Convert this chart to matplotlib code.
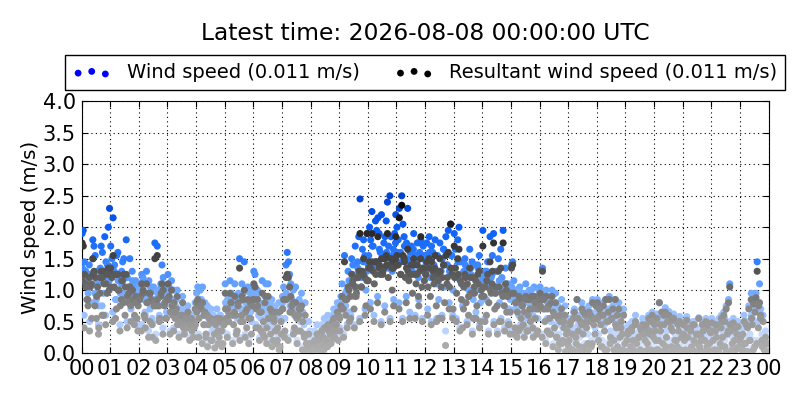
import matplotlib
matplotlib.use("Agg")
import matplotlib.pyplot as plt
from matplotlib.colors import LinearSegmentedColormap, Normalize
import numpy as np

# one row per hour (m/s)
wind_speed = [
    [1.9,1.95,1.45,1.3,1.1,0.95,1.4,1.25,0.8,1.8,1.7,1.55,0.85,1.3,0.75,1.15,1.7,1.6,0.95,1.85,1.45,1.2,2.0,2.3],
    [1.7,1.5,2.15,1.3,0.85,1.55,1.6,1.25,0.95,1.1,1.45,1.5,0.9,1.8,1.2,1.05,1.5,0.7,1.3,1.1,0.95,1.15,0.8,1.05],
    [1.0,1.1,1.25,1.2,0.85,0.6,1.3,0.95,1.15,0.7,1.05,0.5,1.05,1.75,1.0,1.7,0.9,0.75,1.1,1.4,1.2,0.95,0.8,1.05],
    [1.25,1.05,0.85,1.15,0.75,1.0,0.7,0.85,0.6,0.65,0.55,0.6,0.7,0.5,0.65,0.55,0.5,0.65,0.6,0.55,0.45,0.6,0.5,0.55],
    [0.95,1.05,0.7,1.0,0.85,1.05,0.6,0.8,0.45,0.75,0.55,0.65,0.7,0.35,0.6,0.4,0.55,0.7,0.5,0.4,0.6,0.45,0.35,0.55],
    [1.1,0.75,0.85,0.65,1.15,0.95,0.8,0.6,1.1,0.75,0.55,0.95,1.5,0.7,1.1,0.65,1.45,0.8,0.6,1.05,0.75,0.95,0.5,1.0],
    [1.3,1.25,0.9,1.0,0.6,0.8,0.55,1.15,0.7,0.45,1.1,0.6,1.1,0.75,0.5,0.85,0.4,0.7,0.55,0.35,0.6,0.8,0.3,0.5],
    [0.9,1.05,0.55,1.4,1.6,1.45,1.25,1.1,0.85,1.0,0.6,1.05,0.75,0.55,0.85,0.5,0.95,0.65,0.45,0.8,0.3,0.2,0.5,0.35],
    [0.3,0.15,0.25,0.35,0.2,0.45,0.1,0.3,0.2,0.45,0.35,0.55,0.3,0.25,0.6,0.5,0.4,0.3,0.6,0.7,0.65,0.5,0.8,0.75],
    [0.7,0.9,1.1,0.85,1.55,0.75,1.0,1.3,0.65,1.1,1.5,1.4,0.9,1.7,1.2,1.45,1.85,2.45,1.3,1.65,1.8,1.55,1.0,1.9],
    [1.4,2.0,1.8,2.25,1.7,1.4,2.1,1.95,2.15,1.9,1.6,2.2,1.55,1.75,1.85,2.1,2.4,1.7,2.5,1.85,1.3,1.65,1.9,2.2],
    [2.0,1.8,2.3,1.6,2.5,2.05,1.85,1.5,1.75,2.3,1.45,1.6,1.7,1.3,1.9,1.55,1.4,1.75,1.2,1.6,1.8,1.35,1.7,1.5],
    [1.55,1.75,1.35,1.85,1.2,1.7,1.6,1.4,1.8,1.1,1.55,0.85,1.75,1.3,1.5,1.65,1.05,1.85,1.4,1.95,1.3,2.05,1.55,1.0],
    [1.9,1.65,1.2,1.8,2.0,1.45,1.1,0.75,1.3,1.5,1.05,1.35,0.9,1.65,1.25,1.45,0.85,1.2,1.4,1.0,1.35,1.55,0.8,1.15],
    [1.95,1.1,1.3,0.85,1.45,1.05,1.85,1.2,1.55,1.9,0.95,1.3,1.0,1.5,0.8,1.65,1.2,1.95,1.0,1.35,0.9,1.1,0.7,0.85],
    [1.4,1.45,1.15,0.7,1.0,0.85,0.6,1.05,0.75,0.95,0.65,0.85,1.1,0.55,0.8,1.0,0.7,0.9,0.6,1.05,0.75,0.85,0.55,1.0],
    [1.05,0.95,1.35,0.85,0.7,1.0,0.55,0.9,0.75,0.5,1.0,0.8,0.6,0.95,0.45,0.75,0.3,0.65,0.85,0.4,0.6,0.75,0.5,0.35],
    [0.3,0.5,0.22,0.4,0.65,0.12,0.35,0.85,0.45,0.25,0.6,0.8,0.4,0.15,0.7,0.5,0.3,0.75,0.6,0.2,0.85,0.55,0.4,0.65],
    [0.85,0.3,0.7,0.55,0.2,0.8,0.45,0.85,0.15,0.6,0.9,0.35,0.65,0.75,0.3,0.85,0.5,0.2,0.8,0.35,0.6,0.4,0.7,0.25],
    [0.1,0.3,0.45,0.05,0.2,0.5,0.3,0.1,0.6,0.25,0.05,0.35,0.15,0.45,0.55,0.1,0.3,0.5,0.25,0.6,0.4,0.15,0.65,0.35],
    [0.5,0.3,0.62,0.15,0.8,0.45,0.6,0.25,0.5,0.72,0.35,0.1,0.66,0.55,0.2,0.45,0.62,0.3,0.55,0.2,0.45,0.58,0.15,0.35],
    [0.5,0.3,0.15,0.58,0.35,0.05,0.45,0.2,0.5,0.3,0.1,0.4,0.25,0.56,0.15,0.35,0.5,0.1,0.3,0.55,0.2,0.45,0.25,0.4],
    [0.55,0.3,0.15,0.45,0.35,0.1,0.55,0.25,0.6,0.35,0.65,0.2,0.75,0.4,0.85,1.1,0.45,0.25,0.55,0.3,0.15,0.4,0.5,0.2],
    [0.35,0.15,0.4,0.6,0.25,0.1,0.5,0.75,0.3,0.95,0.55,0.85,0.2,0.95,1.45,0.5,1.1,0.7,0.3,0.6,0.15,0.35,0.25,0.1],
]

resultant_speed = [
    [1.75,1.7,1.25,1.1,0.85,0.75,1.2,1.05,0.55,1.5,1.3,1.2,0.55,1.05,0.4,0.95,1.3,1.2,0.6,1.3,1.1,0.95,1.35,1.3],
    [1.35,1.2,1.55,1.05,0.55,1.25,1.25,1.0,0.75,0.85,1.15,1.25,0.6,1.25,0.9,0.8,1.05,0.5,1.0,0.85,0.6,0.9,0.55,0.75],
    [0.85,0.9,1.1,0.95,0.6,0.4,1.1,0.8,0.95,0.5,0.85,0.25,0.8,1.5,0.75,1.55,0.75,0.55,0.9,1.1,1.0,0.75,0.55,0.85],
    [1.1,0.9,0.65,1.0,0.6,0.8,0.55,0.7,0.45,0.55,0.45,0.5,0.6,0.4,0.55,0.45,0.4,0.55,0.5,0.45,0.35,0.5,0.4,0.45],
    [0.8,0.85,0.55,0.75,0.7,0.8,0.45,0.65,0.3,0.6,0.45,0.55,0.55,0.2,0.5,0.3,0.45,0.55,0.35,0.25,0.5,0.35,0.15,0.45],
    [0.95,0.55,0.7,0.5,0.95,0.8,0.6,0.45,0.9,0.6,0.35,0.8,1.35,0.5,0.9,0.5,1.0,0.65,0.4,0.85,0.55,0.8,0.3,0.85],
    [1.1,1.05,0.7,0.85,0.4,0.65,0.35,0.95,0.5,0.25,0.9,0.4,0.9,0.55,0.3,0.65,0.2,0.5,0.35,0.15,0.4,0.65,0.1,0.3],
    [0.7,0.85,0.35,1.2,1.25,1.2,1.05,0.9,0.65,0.8,0.4,0.8,0.55,0.35,0.7,0.35,0.75,0.5,0.3,0.6,0.15,0.05,0.3,0.15],
    [0.15,0.05,0.15,0.2,0.1,0.3,0.02,0.2,0.1,0.35,0.25,0.4,0.15,0.15,0.45,0.35,0.3,0.2,0.5,0.55,0.45,0.35,0.65,0.6],
    [0.55,0.75,0.9,0.7,1.45,0.6,0.85,1.05,0.5,0.9,1.25,1.15,0.7,1.05,0.95,1.2,1.3,1.9,1.05,1.3,1.5,1.2,0.75,1.9],
    [1.15,1.45,1.35,1.9,1.3,1.1,1.45,1.45,1.85,1.35,1.25,1.5,1.25,1.35,1.5,1.55,1.9,1.4,1.4,1.5,1.0,1.35,1.45,1.85],
    [1.55,1.4,2.15,1.25,2.35,1.55,1.5,1.2,1.35,1.65,1.15,1.25,1.4,0.95,1.5,1.25,1.1,1.4,0.9,1.3,1.85,1.05,1.35,1.15],
    [1.25,1.45,1.05,1.5,0.9,1.45,1.3,1.1,1.55,0.75,1.25,0.55,1.5,1.05,1.2,1.4,0.8,1.55,1.1,1.6,1.05,2.05,1.25,0.7],
    [1.7,1.35,0.95,1.5,1.65,1.15,0.85,0.4,1.05,1.25,0.8,1.1,0.6,1.35,0.95,1.2,0.55,0.95,1.15,0.75,1.1,1.3,0.5,0.9],
    [1.7,0.9,1.05,0.6,1.25,0.8,1.45,0.95,1.3,1.75,0.7,1.05,0.75,1.3,0.5,1.35,0.95,1.75,0.75,1.1,0.65,0.9,0.45,0.65],
    [1.35,1.4,0.95,0.4,0.8,0.65,0.35,0.85,0.55,0.75,0.45,0.65,0.9,0.35,0.6,0.85,0.5,0.7,0.4,0.9,0.55,0.7,0.35,0.85],
    [0.95,0.85,1.3,0.7,0.5,0.9,0.35,0.75,0.55,0.3,0.9,0.65,0.4,0.8,0.25,0.55,0.15,0.5,0.7,0.2,0.4,0.6,0.3,0.15],
    [0.1,0.45,0.05,0.3,0.55,0.02,0.25,0.85,0.35,0.1,0.5,0.7,0.3,0.05,0.6,0.4,0.15,0.65,0.5,0.1,0.8,0.45,0.3,0.55],
    [0.8,0.2,0.6,0.45,0.1,0.75,0.35,0.85,0.05,0.5,0.85,0.25,0.55,0.7,0.2,0.85,0.4,0.1,0.7,0.25,0.5,0.3,0.6,0.15],
    [0.02,0.2,0.35,0.0,0.1,0.4,0.2,0.02,0.5,0.15,0.0,0.25,0.05,0.35,0.45,0.02,0.2,0.4,0.15,0.55,0.3,0.05,0.6,0.25],
    [0.45,0.2,0.55,0.05,0.8,0.35,0.65,0.15,0.45,0.65,0.25,0.02,0.6,0.5,0.1,0.35,0.55,0.2,0.5,0.1,0.35,0.5,0.05,0.25],
    [0.45,0.2,0.05,0.52,0.25,0.0,0.38,0.1,0.45,0.2,0.02,0.3,0.15,0.55,0.05,0.25,0.45,0.02,0.2,0.5,0.1,0.38,0.15,0.32],
    [0.48,0.2,0.05,0.35,0.25,0.02,0.45,0.15,0.55,0.25,0.6,0.1,0.7,0.3,0.8,1.05,0.35,0.15,0.48,0.2,0.05,0.3,0.42,0.1],
    [0.25,0.05,0.3,0.5,0.15,0.02,0.4,0.7,0.2,0.85,0.45,0.78,0.1,0.88,1.3,0.4,0.8,0.6,0.2,0.5,0.05,0.25,0.15,0.03],
]

# second pass through each hour, the thick band of points
core_speed = [
    [1.35,0.6,1.2,1.05,0.5,1.25,1.5,0.95,1.1,0.45,1.35,0.75,1.25,0.6,1.4,1.15],
    [1.25,0.65,1.4,0.85,1.15,0.45,1.3,0.95,1.2,0.5,1.05,0.9,1.15,0.55,0.95,0.45],
    [0.95,0.45,1.15,0.65,0.9,0.35,1.05,0.55,0.85,0.3,0.95,0.6,1.05,0.4,0.9,0.65],
    [0.95,0.35,0.85,0.4,0.75,1.0,0.3,0.7,0.9,0.35,0.65,0.75,0.25,0.6,0.3,0.8],
    [0.75,0.3,0.85,0.2,0.7,0.3,0.15,0.65,0.25,0.6,0.1,0.55,0.2,0.6,0.15,0.5],
    [0.8,0.3,0.7,0.9,0.2,0.75,0.35,0.85,0.25,0.7,0.95,0.3,0.8,0.2,0.65,0.85],
    [0.95,0.45,0.85,0.25,0.75,0.35,0.9,0.2,0.65,0.8,0.15,0.6,0.75,0.25,0.1,0.55],
    [0.8,0.3,0.95,0.25,0.75,0.85,0.35,0.7,0.2,0.65,0.8,0.1,0.3,0.1,0.15,0.05],
    [0.05,0.1,0.02,0.25,0.12,0.05,0.4,0.1,0.28,0.15,0.45,0.2,0.4,0.3,0.5,0.25],
    [0.4,0.8,0.3,0.95,0.45,1.15,0.6,1.25,0.45,1.05,1.35,0.55,1.2,1.45,0.7,1.3],
    [1.55,0.8,1.7,0.6,1.45,0.9,1.65,0.5,1.5,0.75,1.6,1.35,0.55,1.55,0.85,1.75],
    [1.6,0.8,1.45,0.55,1.7,0.9,1.5,0.65,1.4,1.65,0.6,1.45,0.85,1.75,0.55,1.55],
    [1.45,0.7,1.6,0.5,1.35,1.55,0.55,1.3,1.5,0.6,1.65,0.35,1.4,0.8,1.55,0.6],
    [1.35,0.55,1.45,0.4,1.25,0.8,1.4,0.5,1.0,1.35,0.35,1.2,0.65,1.4,0.45,1.15],
    [1.2,0.55,1.3,0.35,1.1,1.25,0.5,1.05,0.35,1.15,0.55,1.0,0.4,1.1,0.5,0.35],
    [1.05,0.35,0.9,0.3,1.0,0.45,0.85,0.3,0.95,0.4,0.8,1.0,0.3,0.9,0.35,0.8],
    [0.85,0.3,0.95,0.2,0.8,0.35,0.9,0.15,0.7,0.3,0.1,0.65,0.2,0.55,0.05,0.4],
    [0.25,0.55,0.1,0.7,0.2,0.6,0.05,0.5,0.7,0.15,0.55,0.1,0.65,0.2,0.6,0.8],
    [0.6,0.75,0.15,0.65,0.1,0.55,0.7,0.2,0.6,0.1,0.5,0.65,0.05,0.45,0.1,0.05],
    [0.05,0.35,0.02,0.4,0.1,0.5,0.02,0.3,0.45,0.05,0.35,0.5,0.1,0.4,0.55,0.05],
    [0.4,0.1,0.25,0.5,0.05,0.65,0.15,0.55,0.05,0.45,0.6,0.1,0.25,0.5,0.02,0.3],
    [0.35,0.05,0.45,0.02,0.4,0.1,0.5,0.02,0.35,0.15,0.25,0.4,0.02,0.5,0.1,0.4],
    [0.4,0.05,0.5,0.1,0.02,0.45,0.15,0.55,0.05,0.4,0.5,0.1,0.02,0.45,0.12,0.25],
    [0.3,0.1,0.2,0.5,0.05,0.25,0.6,0.1,0.7,0.2,0.8,0.6,0.15,0.25,0.05,0.2],
]

core_resultant = [
    [1.15,0.4,1.05,0.85,0.35,1.1,1.25,0.75,0.9,0.3,1.2,0.6,1.1,0.45,1.25,1.0],
    [1.05,0.5,1.25,0.7,1.0,0.35,1.15,0.8,1.05,0.4,0.95,0.75,1.0,0.45,0.8,0.35],
    [0.85,0.35,1.0,0.55,0.8,0.25,0.95,0.45,0.75,0.2,0.85,0.5,0.95,0.3,0.8,0.55],
    [0.85,0.3,0.75,0.35,0.65,0.9,0.25,0.6,0.8,0.3,0.55,0.65,0.2,0.55,0.25,0.7],
    [0.65,0.25,0.75,0.15,0.6,0.25,0.1,0.55,0.2,0.5,0.08,0.5,0.15,0.55,0.1,0.45],
    [0.7,0.25,0.6,0.8,0.15,0.65,0.3,0.75,0.2,0.6,0.85,0.25,0.7,0.15,0.55,0.75],
    [0.85,0.4,0.75,0.2,0.65,0.3,0.8,0.15,0.55,0.7,0.1,0.55,0.65,0.2,0.05,0.5],
    [0.7,0.25,0.85,0.2,0.65,0.75,0.3,0.6,0.15,0.6,0.7,0.05,0.25,0.05,0.1,0.02],
    [0.02,0.05,0.0,0.2,0.08,0.02,0.35,0.05,0.22,0.1,0.4,0.15,0.35,0.25,0.45,0.2],
    [0.35,0.7,0.25,0.85,0.4,1.0,0.55,1.1,0.4,0.9,1.2,0.5,1.05,1.25,0.6,1.15],
    [1.35,0.7,1.45,0.5,1.25,0.8,1.4,0.45,1.3,0.65,1.4,1.2,0.5,1.35,0.75,1.5],
    [1.4,0.7,1.25,0.5,1.45,0.8,1.3,0.55,1.25,1.4,0.55,1.25,0.75,1.5,0.5,1.35],
    [1.25,0.6,1.35,0.45,1.2,1.35,0.5,1.15,1.3,0.55,1.4,0.12,1.2,0.7,1.35,0.55],
    [1.2,0.5,1.25,0.35,1.1,0.7,1.2,0.45,0.9,1.2,0.3,1.05,0.55,1.25,0.4,1.0],
    [1.05,0.5,1.15,0.3,1.0,1.1,0.45,0.95,0.3,1.05,0.5,0.9,0.35,1.0,0.45,0.3],
    [0.95,0.3,0.8,0.25,0.9,0.4,0.75,0.25,0.85,0.35,0.7,0.9,0.25,0.8,0.3,0.7],
    [0.75,0.25,0.85,0.15,0.7,0.3,0.8,0.1,0.6,0.25,0.05,0.6,0.15,0.5,0.02,0.35],
    [0.2,0.5,0.05,0.65,0.15,0.55,0.02,0.45,0.65,0.1,0.5,0.05,0.6,0.15,0.55,0.75],
    [0.55,0.7,0.1,0.6,0.05,0.5,0.65,0.15,0.55,0.05,0.45,0.6,0.02,0.4,0.05,0.02],
    [0.02,0.3,0.0,0.35,0.05,0.45,0.0,0.25,0.4,0.02,0.3,0.45,0.05,0.35,0.5,0.02],
    [0.35,0.05,0.2,0.45,0.02,0.6,0.1,0.5,0.02,0.4,0.55,0.05,0.2,0.45,0.0,0.25],
    [0.3,0.02,0.4,0.0,0.35,0.05,0.45,0.0,0.3,0.1,0.2,0.35,0.0,0.45,0.05,0.35],
    [0.35,0.02,0.45,0.05,0.0,0.4,0.1,0.5,0.02,0.35,0.45,0.05,0.0,0.4,0.08,0.2],
    [0.25,0.05,0.15,0.45,0.02,0.2,0.55,0.05,0.65,0.15,0.75,0.55,0.1,0.2,0.02,0.15],
]

hour_labels = ["00","01","02","03","04","05","06","07","08","09","10","11",
               "12","13","14","15","16","17","18","19","20","21","22","23","00"]
y_ticks = [0.0,0.5,1.0,1.5,2.0,2.5,3.0,3.5,4.0]


def hourly_xy(rows):
    xs, ys = [], []
    for hour, row in enumerate(rows):
        for i, v in enumerate(row):
            xs.append(hour + (i + 0.5) / len(row))
            ys.append(v)
    return np.array(xs), np.array(ys)


plt.rcParams['font.family'] = 'DejaVu Sans'

blues = LinearSegmentedColormap.from_list("blues_wind", [(0, "#e6eeff"), (0.2, "#a8c8ff"), (0.4, "#6ea8ff"),
                                                         (0.6, "#2f7cff"), (0.8, "#0a5cf5"), (1, "#0044d0")])
greys = LinearSegmentedColormap.from_list("greys_wind", [(0, "#b0b0b0"), (0.2, "#989898"), (0.4, "#6e6e6e"),
                                                         (0.6, "#454545"), (0.8, "#222222"), (1, "#000000")])
norm = Normalize(0, 2.5)

fig = plt.figure(figsize=(8, 4), dpi=100)
ax = fig.add_axes([81.5/800, 47/400, 687/800, 251.5/400])

x1, y1 = hourly_xy(wind_speed)
x1b, y1b = hourly_xy(core_speed)
x2, y2 = hourly_xy(resultant_speed)
x2b, y2b = hourly_xy(core_resultant)
bx = np.concatenate([x1, x1b])
by = np.concatenate([y1, y1b])
gx = np.concatenate([x2, x2b])
gy = np.concatenate([y2, y2b])
ax.scatter(bx, by, c=by, cmap=blues, norm=norm, s=26, linewidths=0, zorder=3)
ax.scatter(gx, gy, c=gy, cmap=greys, norm=norm, s=26, linewidths=0, zorder=4)

# legend handles only, the colours are fixed there
h1 = ax.scatter([], [], c="#0000ff", s=24, linewidths=0)
h2 = ax.scatter([], [], c="#000000", s=24, linewidths=0)
ax.legend([h1, h2], ["Wind speed (0.011 m/s)", "Resultant wind speed (0.011 m/s)"],
          loc="lower left", bbox_to_anchor=(64.5/800, 1 - 90/400, 720.5/800, 35/400),
          bbox_transform=fig.transFigure, mode="expand",
          ncol=2, scatterpoints=3, scatteryoffsets=[0.375, 0.5, 0.3125], fontsize=14,
          fancybox=False, framealpha=1, edgecolor="black", borderaxespad=0,
          handletextpad=0.8, columnspacing=1.2)

ax.set_xlim(0, 24)
ax.set_ylim(0, 4)
ax.set_xticks(range(25))
ax.set_xticklabels(hour_labels)
ax.set_yticks(y_ticks)
ax.set_yticklabels(["%.1f" % v for v in y_ticks])
ax.tick_params(direction="in", length=4, top=True, right=True, labelsize=15, pad=4)
ax.grid(True, color="black", linestyle=(0, (1, 3)), linewidth=0.8, zorder=1)
ax.set_axisbelow(True)
ax.set_ylabel("Wind speed (m/s)", fontsize=14.2, labelpad=2)
fig.text(425/800, 1 - 34/400, "Latest time: 2026-08-08 00:00:00 UTC", ha="center", va="center", fontsize=16.8)

fig.savefig("out.png", dpi=100)
